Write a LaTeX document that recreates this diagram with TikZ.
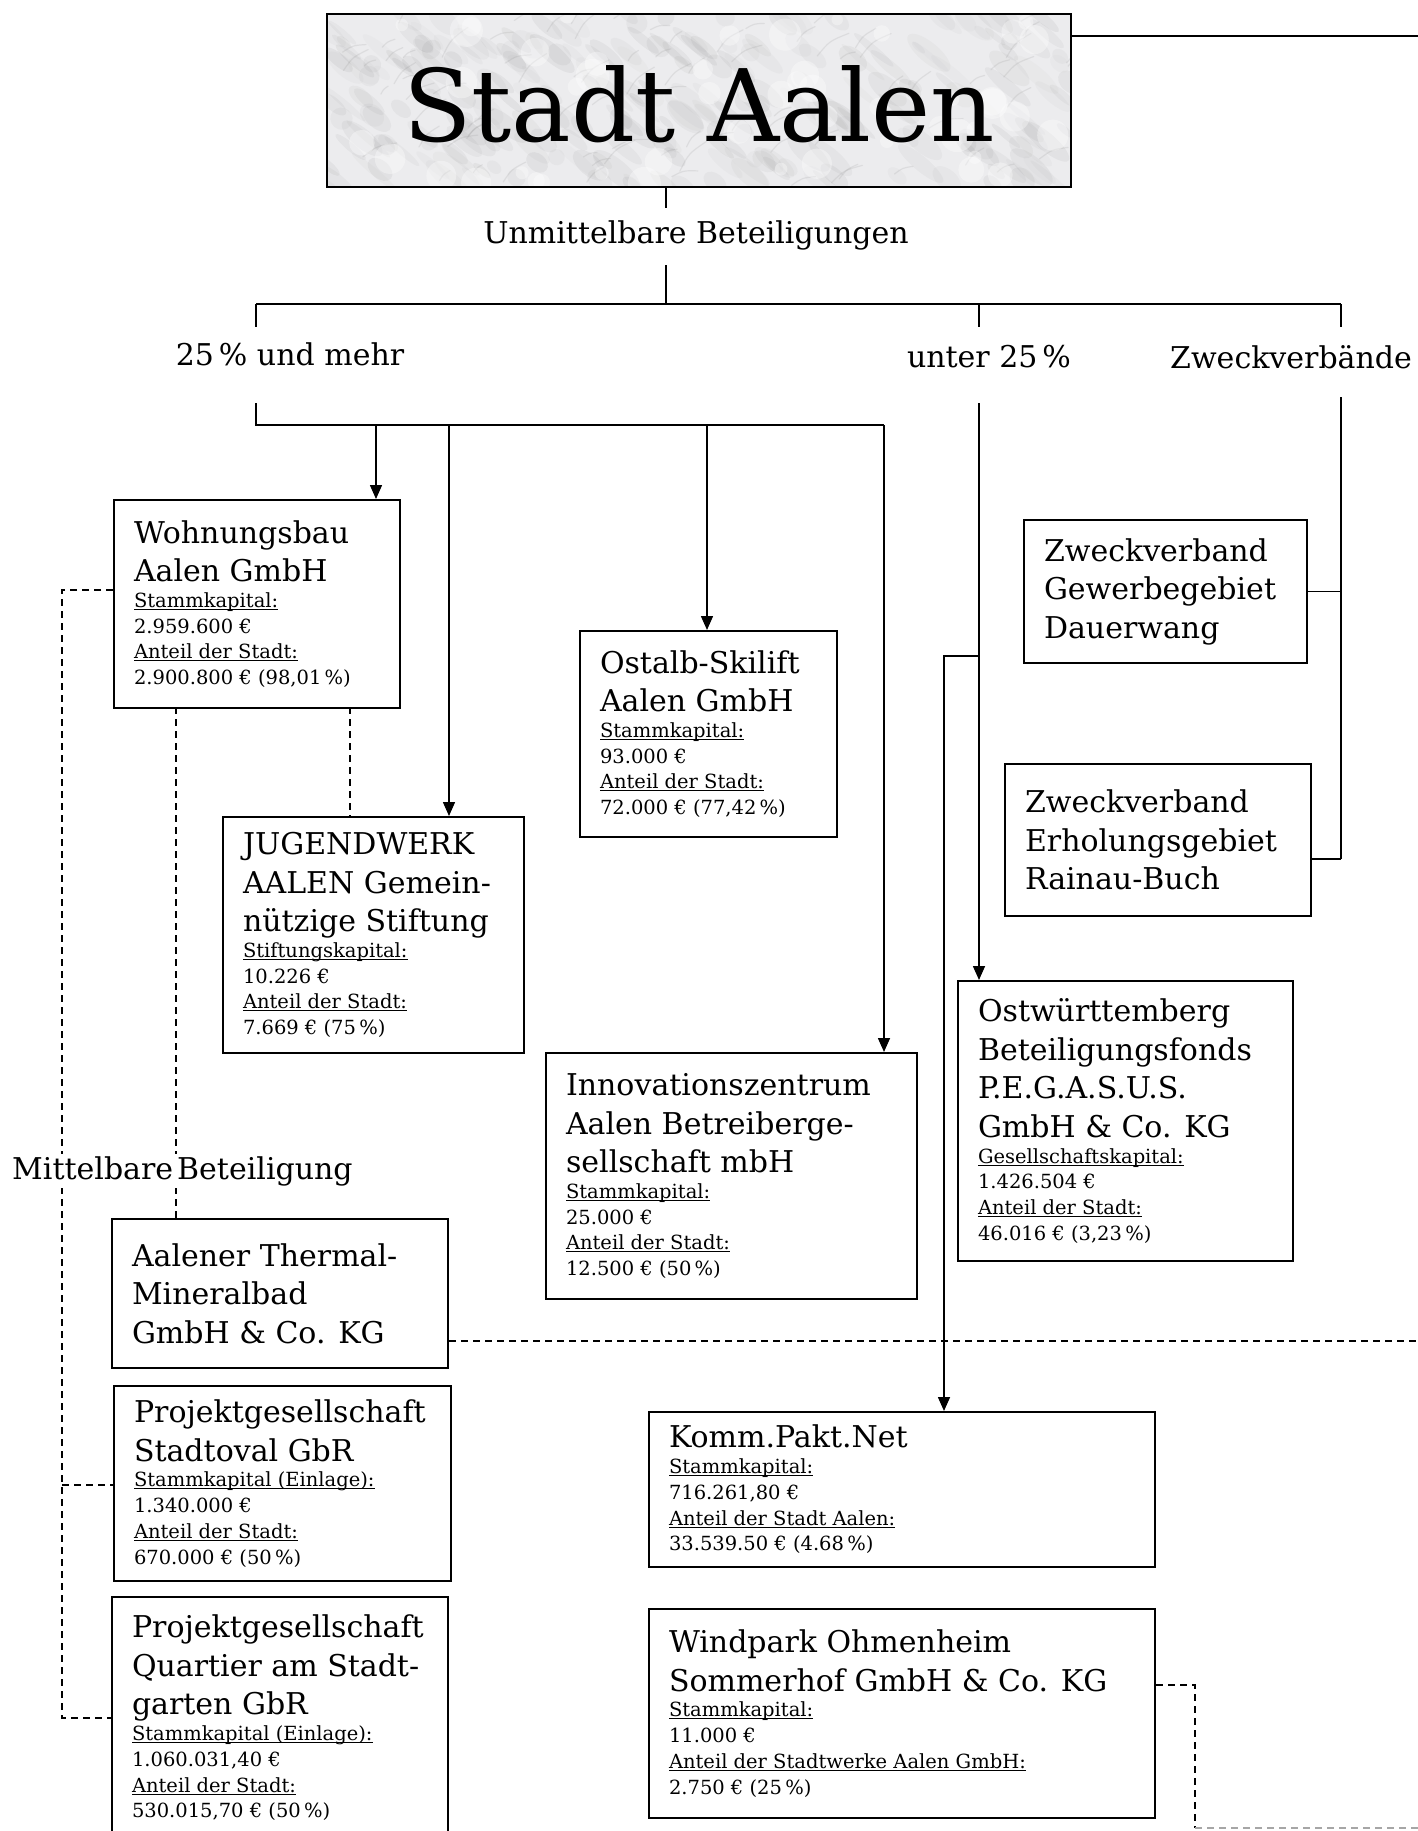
\documentclass[tikz,border=0pt]{standalone}
\usepackage{fontspec}
\setmainfont{DejaVu Serif}
\usetikzlibrary{arrows.meta}
\setlength\parindent{0pt}
\hyphenpenalty=10000
\exhyphenpenalty=10000
\newcommand\titlesz{\fontsize{30}{38.5}\selectfont\spaceskip=0pt\xspaceskip=0pt\relax}
\newcommand\detailsz{\fontsize{19.5}{25.7}\selectfont\spaceskip=0pt\xspaceskip=0pt\relax}
\newcommand\ulab[1]{\leavevmode\setbox0=\hbox{#1}\rlap{\rule[-2.4pt]{\wd0}{0.9pt}}\box0}
\definecolor{marble}{RGB}{236,236,238}
\begin{document}
\begin{tikzpicture}[x=1pt,y=-1pt,
  conn/.style={line width=1.5pt},
  arr/.style={line width=1.5pt,-{Triangle[length=14pt,width=12pt]}},
  dsh/.style={line width=1.5pt,dash pattern=on 7pt off 5pt},
  obox/.style n args={3}{draw,line width=2pt,anchor=north west,align=left,inner xsep=20pt,inner ysep=0pt,minimum width=#1pt,minimum height=#2pt,text width=#3pt,fill=white},
  lab/.style={font=\titlesz, inner sep=2pt}
]
\fill[white] (0,0) rectangle (1418,1831);
\useasboundingbox (0,0) rectangle (1418,1831);

% ---------- top box ----------
\node[fill=marble, anchor=north west, minimum width=744pt, minimum height=173pt, inner sep=0pt] (stadt) at (327,14) {};
\begin{scope}
  \clip (stadt.north west) rectangle (stadt.south east);
  \pgfmathsetseed{11}
  \foreach \k in {1,...,260}{
    \pgfmathsetmacro\px{327+744*rnd}
    \pgfmathsetmacro\py{14+173*rnd}
    \pgfmathsetmacro\rx{8+22*rnd}
    \pgfmathsetmacro\ry{3+8*rnd}
    \pgfmathsetmacro\gr{30+50*rnd}
    \fill[black!\gr, opacity=0.06, rotate around={-40:(\px,\py)}] (\px,\py) ellipse ({\rx} and {\ry});
  }
  \foreach \k in {1,...,90}{
    \pgfmathsetmacro\px{327+744*rnd}
    \pgfmathsetmacro\py{14+173*rnd}
    \pgfmathsetmacro\ang{-25-40*rnd}
    \pgfmathsetmacro\len{10+30*rnd}
    \draw[black!50, line width=1.2pt, opacity=0.14, line cap=round] (\px,\py) .. controls ++(\ang:\len/2) .. ++(\ang+15:\len);
  }
  \foreach \k in {1,...,50}{
    \pgfmathsetmacro\px{327+744*rnd}
    \pgfmathsetmacro\py{14+173*rnd}
    \fill[white, opacity=0.35] (\px,\py) circle (5+12*rnd);
  }
\end{scope}
\draw[line width=2pt] (stadt.north west) rectangle (stadt.south east);
\node[font=\fontsize{100}{100}\selectfont, inner sep=0pt] (stadttxt) at (699,104) {Stadt Aalen};

% ---------- labels ----------
\node[lab] (unmittel) at (696,235) {Unmittelbare Beteiligungen};
\node[lab] (cat1) at (290,354) {25\,\% und mehr};
\node[lab] (cat2) at (989,357) {unter 25\,\%};
\node[lab, anchor=west] (cat3) at (1168,357) {Zweckverbände};

% ---------- boxes ----------
\node[obox={286}{208}{246}] (wohn) at (113,499) {{\titlesz \mbox{Wohnungsbau}\\\mbox{Aalen GmbH}\par}\detailsz\ulab{Stammkapital:}\\2.959.600 €\\\ulab{Anteil der Stadt:}\\2.900.800 € (98,01\,\%)\par};

\node[obox={301}{236}{261}] (jugend) at (222,816) {{\titlesz \mbox{JUGENDWERK}\\\mbox{AALEN Gemein-}\\\mbox{nützige Stiftung}\par}\detailsz\ulab{Stiftungskapital:}\\10.226 €\\\ulab{Anteil der Stadt:}\\7.669 € (75\,\%)\par};

\node[obox={257}{206}{217}] (ostalb) at (579,630) {{\titlesz \mbox{Ostalb-Skilift}\\\mbox{Aalen GmbH}\par}\detailsz\ulab{Stammkapital:}\\93.000 €\\\ulab{Anteil der Stadt:}\\72.000 € (77,42\,\%)\par};

\node[obox={371}{246}{331}] (innov) at (545,1052) {{\titlesz \mbox{Innovationszentrum}\\\mbox{Aalen Betreiberge-}\\\mbox{sellschaft mbH}\par}\detailsz\ulab{Stammkapital:}\\25.000 €\\\ulab{Anteil der Stadt:}\\12.500 € (50\,\%)\par};

\node[obox={283}{143}{243}] (zv1) at (1023,519) {{\titlesz \mbox{Zweckverband}\\\mbox{Gewerbegebiet}\\\mbox{Dauerwang}\par}};

\node[obox={306}{152}{266}] (zv2) at (1004,763) {{\titlesz \mbox{Zweckverband}\\\mbox{Erholungsgebiet}\\\mbox{Rainau-Buch}\par}\vspace{12pt}};

\node[obox={335}{280}{295}] (ostw) at (957,980) {{\titlesz \mbox{Ostwürttemberg}\\\mbox{Beteiligungsfonds}\\\mbox{P.E.G.A.S.U.S.}\\\mbox{GmbH \& Co. KG}\par}\detailsz\ulab{Gesellschaftskapital:}\\1.426.504 €\\\ulab{Anteil der Stadt:}\\46.016 € (3,23\,\%)\par};

\node[obox={336}{149}{296}] (therm) at (111,1218) {{\titlesz \mbox{Aalener Thermal-}\\\mbox{Mineralbad}\\\mbox{GmbH \& Co. KG}\par}};

\node[obox={337}{195}{297}] (stadtoval) at (113,1385) {{\titlesz \mbox{Projektgesellschaft}\\\mbox{Stadtoval GbR}\par}\detailsz\ulab{Stammkapital (Einlage):}\\1.340.000 €\\\ulab{Anteil der Stadt:}\\670.000 € (50\,\%)\par};

\node[obox={336}{242}{296}] (quartier) at (111,1596) {{\titlesz \mbox{Projektgesellschaft}\\\mbox{Quartier am Stadt-}\\\mbox{garten GbR}\par}\detailsz\ulab{Stammkapital (Einlage):}\\1.060.031,40 €\\\ulab{Anteil der Stadt:}\\530.015,70 € (50\,\%)\par};

\node[obox={506}{155}{466}] (komm) at (648,1411) {{\titlesz \mbox{Komm.Pakt.Net}\par}\detailsz\ulab{Stammkapital:}\\716.261,80 €\\\ulab{Anteil der Stadt Aalen:}\\33.539.50 € (4.68\,\%)\par};

\node[obox={506}{209}{466}] (wind) at (648,1608) {{\titlesz \mbox{Windpark Ohmenheim}\\\mbox{Sommerhof GmbH \& Co. KG}\par}\detailsz\ulab{Stammkapital:}\\11.000 €\\\ulab{Anteil der Stadtwerke Aalen GmbH:}\\2.750 € (25\,\%)\par};

% ---------- coordinates ----------
\coordinate (redge1) at (1418,36);
\coordinate (tA) at (666,208);
\coordinate (tB) at (666,265);
\coordinate (b1L) at (256,304);
\coordinate (b1M) at (979,304);
\coordinate (b1R) at (1341,304);
\coordinate (c1) at (256,327);
\coordinate (c2) at (979,327);
\coordinate (c3) at (1341,327);
\coordinate (d1) at (256,403);
\coordinate (b2L) at (256,425);
\coordinate (b2R) at (884,425);
\coordinate (a1) at (376,425);
\coordinate (a2) at (449,425);
\coordinate (a3) at (707,425);
\coordinate (u1) at (979,403);
\coordinate (u2) at (979,656);
\coordinate (u3) at (944,656);
\coordinate (z1) at (1341,397);
\coordinate (zb2) at (1341,859);
\coordinate (dl1) at (62,590);
\coordinate (dl2) at (62,1485);
\coordinate (dl3) at (62,1718);
\coordinate (dv1) at (176,707);
\coordinate (dv2) at (350,707);
\coordinate (dr1) at (1418,1341);
\coordinate (dw1) at (1195,1685);
\coordinate (dw2) at (1195,1828);
\coordinate (dw3) at (1418,1828);

% ---------- solid connectors ----------
\draw[conn] (stadt.east |- redge1) -- (redge1);
\draw[conn] (stadt.south -| tA) -- (tA);
\draw[conn] (tB) -- (tB |- b1L);
\draw[conn] (b1L) -- (b1R);
\draw[conn] (b1L) -- (c1);
\draw[conn] (b1M) -- (c2);
\draw[conn] (b1R) -- (c3);
\draw[conn] (d1) -- (b2L) -- (b2R);
\draw[arr] (a1) -- (a1 |- wohn.north);
\draw[arr] (a2) -- (a2 |- jugend.north);
\draw[arr] (a3) -- (a3 |- ostalb.north);
\draw[arr] (b2R) -- (b2R |- innov.north);
\draw[arr] (u1) -- (u1 |- ostw.north);
\draw[arr] (u2) -- (u3) -- (u3 |- komm.north);
\draw[conn] (z1) -- (zb2);
\draw[conn] (zv1.east) -- (zv1.east -| z1);
\draw[conn] (zv2.east |- zb2) -- (zb2);

% ---------- dashed connectors ----------
\draw[dsh] (wohn.west |- dl1) -- (dl1) -- (dl3) -- (quartier.west |- dl3);
\draw[dsh] (dl2) -- (stadtoval.west |- dl2);
\draw[dsh] (dv1) -- (dv1 |- therm.north);
\draw[dsh] (dv2) -- (dv2 |- jugend.north);
\draw[dsh] (therm.east |- dr1) -- (dr1);
\draw[dsh] (wind.east |- dw1) -- (dw1) -- (dw2);
\draw[dsh, gray!70] (dw2) -- (dw3);

\node[lab, anchor=west, fill=white] (mittel) at (10,1171) {Mittelbare\hspace{4pt}Beteiligung};
\end{tikzpicture}
\end{document}
